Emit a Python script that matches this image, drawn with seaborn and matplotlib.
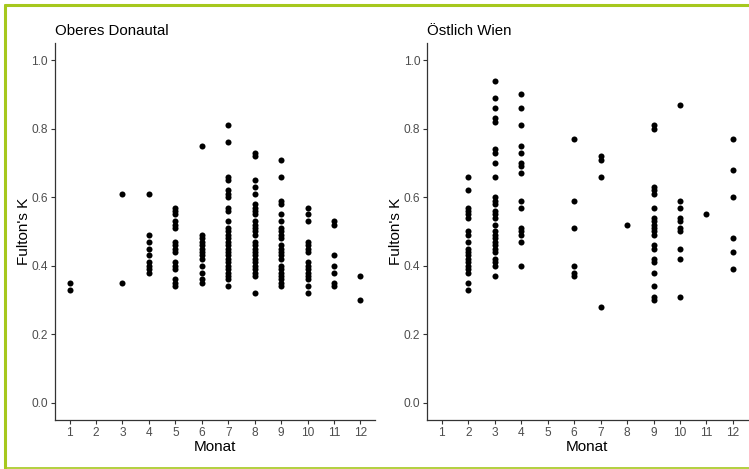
import matplotlib
matplotlib.use("Agg")
import matplotlib.pyplot as plt
from matplotlib.lines import Line2D
import numpy as np
import pandas as pd
import seaborn as sns

sns.set_style("white")
plt.rcParams['font.family'] = ['Liberation Sans', 'DejaVu Sans']

BLACK = "#000000"
AXIS = "#333333"
TICKTXT = "#4D4D4D"
BORDER = "#A6C81E"

# Fulton's K per Monat, Oberes Donautal
donau = {
    1: [0.35, 0.33],
    3: [0.61, 0.35],
    4: [0.61, 0.49, 0.47, 0.45, 0.43, 0.41, 0.40, 0.39, 0.38],
    5: [0.57, 0.56, 0.55, 0.53, 0.52, 0.51, 0.47, 0.46, 0.45, 0.44, 0.41, 0.40,
        0.39, 0.36, 0.35, 0.34],
    6: [0.75, 0.49, 0.48, 0.47, 0.46, 0.45, 0.44, 0.43, 0.42, 0.40, 0.38, 0.36, 0.35],
    7: [0.81, 0.76, 0.66, 0.65, 0.62, 0.61, 0.60, 0.57, 0.56, 0.53, 0.51, 0.50,
        0.49, 0.48, 0.47, 0.46, 0.45, 0.44, 0.43, 0.42, 0.41, 0.40, 0.39, 0.38,
        0.37, 0.36, 0.34],
    8: [0.73, 0.72, 0.65, 0.63, 0.61, 0.58, 0.57, 0.56, 0.55, 0.53, 0.52, 0.51,
        0.50, 0.49, 0.47, 0.46, 0.45, 0.44, 0.43, 0.42, 0.41, 0.40, 0.39, 0.38,
        0.37, 0.32],
    9: [0.71, 0.66, 0.59, 0.58, 0.55, 0.53, 0.51, 0.50, 0.49, 0.48, 0.46, 0.45,
        0.44, 0.43, 0.42, 0.40, 0.39, 0.38, 0.37, 0.36, 0.35, 0.34],
    10: [0.57, 0.55, 0.53, 0.47, 0.46, 0.45, 0.44, 0.41, 0.40, 0.39, 0.38, 0.37,
         0.36, 0.34, 0.32],
    11: [0.53, 0.52, 0.43, 0.40, 0.38, 0.35, 0.34],
    12: [0.37, 0.30],
}

# Fulton's K per Monat, Östlich Wien
wien = {
    2: [0.66, 0.62, 0.57, 0.56, 0.55, 0.54, 0.50, 0.49, 0.47, 0.45, 0.44, 0.43,
        0.42, 0.41, 0.40, 0.39, 0.38, 0.35, 0.33],
    3: [0.94, 0.89, 0.86, 0.83, 0.82, 0.74, 0.73, 0.70, 0.66, 0.60, 0.59, 0.58,
        0.56, 0.55, 0.54, 0.52, 0.50, 0.49, 0.48, 0.47, 0.46, 0.45, 0.44, 0.42,
        0.41, 0.40, 0.37],
    4: [0.90, 0.86, 0.81, 0.75, 0.73, 0.70, 0.69, 0.67, 0.59, 0.57, 0.51, 0.50,
        0.49, 0.47, 0.40],
    6: [0.77, 0.59, 0.51, 0.40, 0.38, 0.37],
    7: [0.72, 0.71, 0.66, 0.28],
    8: [0.52],
    9: [0.81, 0.80, 0.63, 0.62, 0.61, 0.57, 0.54, 0.53, 0.52, 0.51, 0.50, 0.49,
        0.46, 0.45, 0.42, 0.41, 0.38, 0.34, 0.31, 0.30],
    10: [0.87, 0.59, 0.57, 0.54, 0.53, 0.51, 0.50, 0.45, 0.42, 0.31],
    11: [0.55],
    12: [0.77, 0.68, 0.60, 0.48, 0.44, 0.39],
}

panels = [("Oberes Donautal", donau), ("Östlich Wien", wien)]
months = list(range(1, 13))
yticks = [0.0, 0.2, 0.4, 0.6, 0.8, 1.0]


def to_frame(d):
    rows = [(m, k) for m, vals in d.items() for k in vals]
    return pd.DataFrame(rows, columns=["Monat", "K"])


fig = plt.figure(figsize=(7.49, 4.69), dpi=100)
ax1 = fig.add_axes([0.0734, 0.1045, 0.4273, 0.8038])
ax2 = fig.add_axes([0.5705, 0.1045, 0.4275, 0.8038])

for ax, (title, data) in zip([ax1, ax2], panels):
    df = to_frame(data)
    sns.scatterplot(data=df, x="Monat", y="K", ax=ax, color=BLACK, s=19,
                    linewidth=0, legend=False)
    ax.set_xlim(0.45, 12.55)
    ax.set_ylim(-0.05, 1.05)
    ax.set_xticks(months)
    ax.set_yticks(yticks)
    ax.set_yticklabels([f"{v:.1f}" for v in yticks])
    ax.set_xlabel("Monat", fontsize=11, color=BLACK, labelpad=1)
    ax.set_ylabel("Fulton's K", fontsize=11, color=BLACK, labelpad=0.5)
    ax.set_title(title, loc="left", fontsize=10.8, color=BLACK, pad=6)
    ax.tick_params(direction="out", length=3, width=0.8, color=AXIS,
                   labelcolor=TICKTXT, labelsize=8.6, pad=2,
                   bottom=True, left=True)
    for side in ["top", "right"]:
        ax.spines[side].set_visible(False)
    for side in ["left", "bottom"]:
        ax.spines[side].set_color(AXIS)
        ax.spines[side].set_linewidth(0.9)
    ax.set_facecolor("white")

# green frame around the figure
fig.add_artist(Line2D([5.3 / 749, 5.3 / 749], [0.003, 1 - 5.3 / 469],
                      color=BORDER, lw=2.2, transform=fig.transFigure))
fig.add_artist(Line2D([5.3 / 749, 1.0], [1 - 5.3 / 469, 1 - 5.3 / 469],
                      color=BORDER, lw=2.2, transform=fig.transFigure))
fig.add_artist(Line2D([5.3 / 749, 1.0], [1.5 / 469, 1.5 / 469],
                      color=BORDER, lw=1.2, transform=fig.transFigure))

fig.savefig("out.png", dpi=100)
